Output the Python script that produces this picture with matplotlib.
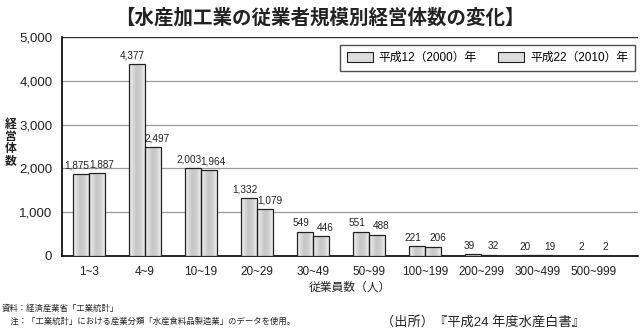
import matplotlib
matplotlib.use('Agg')
import numpy as np
import matplotlib.pyplot as plt
from matplotlib.patches import Patch

plt.rcParams['font.family'] = ['Liberation Sans', 'Noto Sans CJK JP', 'DejaVu Sans']

categories = ['1~3', '4~9', '10~19', '20~29', '30~49', '50~99',
              '100~199', '200~299', '300~499', '500~999']
y2000 = [1875, 4377, 2003, 1332, 549, 551, 221, 39, 20, 2]
y2010 = [1887, 2497, 1964, 1079, 446, 488, 206, 32, 19, 2]
series_names = ['平成12（2000）年', '平成22（2010）年']
yticks = [0, 1000, 2000, 3000, 4000, 5000]

fig = plt.figure(figsize=(6.4, 3.31), dpi=100)
ax = fig.add_axes([0.097, 0.2266, 0.9, 0.6617])

x = np.arange(len(categories))
w = 0.29
grad = np.array([[0.93, 0.86, 0.80, 0.78, 0.80, 0.86, 0.93]])

for off, vals, shift in [(-w / 2, y2000, -3), (w / 2, y2010, 3)]:
    bars = ax.bar(x + off, vals, width=w, facecolor='none',
                  edgecolor='#222222', linewidth=0.9, zorder=3)
    for b in bars:
        im = ax.imshow(grad, cmap='gray', vmin=0, vmax=1, aspect='auto',
                       extent=[b.get_x(), b.get_x() + b.get_width(), 0, b.get_height()],
                       zorder=2.9, interpolation='bicubic')
        im.set_clip_path(b)
        ax.annotate(format(int(b.get_height()), ','),
                    (b.get_x() + b.get_width() / 2, b.get_height()),
                    xytext=(shift, 2.5), textcoords='offset points',
                    ha='center', va='bottom', fontsize=7.2,
                    color='#222222', zorder=4)

ax.set_xlim(-0.48, 9.8)
ax.set_ylim(0, 5000)
ax.set_yticks(yticks)
ax.set_yticklabels([format(v, ',') for v in yticks], fontsize=9.5, color='#222222')
ax.set_xticks(x)
ax.set_xticklabels(categories, fontsize=8.5, color='#222222')
ax.tick_params(length=0, pad=7)
ax.tick_params(axis='y', pad=7)

for v in yticks[1:-1]:
    ax.axhline(v, color='#999999', linewidth=0.9, zorder=1)
ax.axhline(5000, color='#333333', linewidth=1.0, zorder=1)

for s in ['top', 'right']:
    ax.spines[s].set_visible(False)
ax.spines['left'].set_linewidth(1.2)
ax.spines['bottom'].set_linewidth(1.2)

ax.set_xlabel('従業員数（人）', fontsize=8.5, color='#222222', labelpad=3)

handles = [Patch(facecolor='#dddddd', edgecolor='#222222', linewidth=0.8) for _ in series_names]
leg = ax.legend(handles, series_names, ncol=2, loc='upper right',
                bbox_to_anchor=(0.995, 0.965), borderaxespad=0, fontsize=8.5,
                frameon=True, fancybox=False, edgecolor='#222222',
                handlelength=2.2, handleheight=1.0, handletextpad=0.5,
                columnspacing=1.8, borderpad=0.6)
leg.get_frame().set_linewidth(1.0)

fig.text(0.5, 0.945, '【水産加工業の従業者規模別経営体数の変化】', ha='center', va='center',
         fontsize=14, fontweight='bold', color='#222222')
fig.text(0.016, 0.568, '経\n営\n体\n数', ha='center', va='center', fontsize=8.5,
         linespacing=1.0, color='#222222', fontweight='bold')
fig.text(0.003, 0.068, '資料：経済産業省「工業統計」', fontsize=6, va='center', color='#222222')
fig.text(0.003, 0.027, '　注：「工業統計」における産業分類「水産食料品製造業」のデータを使用。',
         fontsize=6, va='center', color='#222222')
fig.text(0.595, 0.027, '（出所）『平成24 年度水産白書』', fontsize=9.5, va='center', color='#222222')

fig.savefig('out.png', dpi=100)
